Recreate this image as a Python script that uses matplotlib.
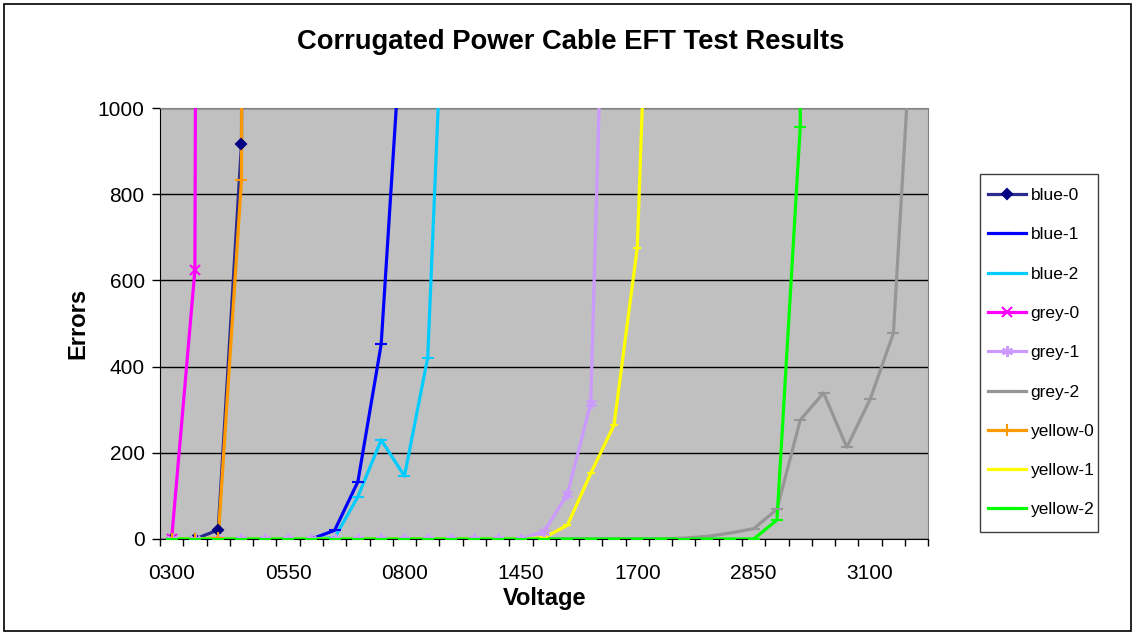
import numpy as np
import matplotlib
matplotlib.use('Agg')
import matplotlib.pyplot as plt
from matplotlib.lines import Line2D
from matplotlib.patches import Rectangle

plt.rcParams['font.family'] = ['Liberation Sans', 'DejaVu Sans']

# --- Data ---
voltages = ['0300', '0350', '0400', '0450', '0500', '0550', '0600', '0650', '0700', '0750',
            '0800', '1000', '1200', '1300', '1400', '1450', '1500', '1550', '1600', '1650',
            '1700', '2000', '2300', '2600', '2800', '2850', '2900', '2950', '3000', '3050',
            '3100', '3150', '3200']
n = len(voltages)

def pad(vals):
    out = np.full(n, np.nan)
    out[:len(vals)] = vals
    return out

blue_0 = pad([0, 0, 21, 916, 20000])
blue_1 = pad([0, 0, 0, 0, 0, 0, 0, 20, 133, 452, 1300])
blue_2 = pad([0, 0, 0, 0, 0, 0, 0, 3, 98, 230, 146, 421, 1720])
grey_0 = pad([0, 624, 20000])
grey_1 = pad([0] * 16 + [17, 104, 315, 2230])
grey_2 = pad([0] * 22 + [2, 6, 14, 24, 69, 276, 339, 213, 324, 477, 1394])
yellow_0 = pad([0, 0, 2, 833, 20000])
yellow_1 = pad([0] * 16 + [3, 32, 152, 264, 676, 2190])
yellow_2 = pad([0] * 26 + [44, 957, 30000])

series = [
    ('blue-0', blue_0, '#2b2b8f', '#000080', 'D', 5.5),
    ('blue-1', blue_1, '#0000ff', '#0000ff', '_', 8),
    ('blue-2', blue_2, '#00ccff', '#00ccff', '_', 8),
    ('grey-0', grey_0, '#ff00ff', '#ff00ff', 'x', 7),
    ('grey-1', grey_1, '#cc99ff', '#cc99ff', (6, 2, 0), 8),
    ('grey-2', grey_2, '#969696', '#969696', '_', 8),
    ('yellow-0', yellow_0, '#ff9900', '#ff9900', '+', 8),
    ('yellow-1', yellow_1, '#ffff00', '#ffff00', '_', 6),
    ('yellow-2', yellow_2, '#00ff00', '#00ff00', '_', 8),
]

W, H = 1136, 633
fig = plt.figure(figsize=(W / 100, H / 100), dpi=100)
ax = fig.add_axes([160 / W, 1 - 539 / H, (928.3 - 160) / W, (539 - 108) / H])
ax.set_facecolor('#c0c0c0')

x = np.arange(n)
handles = []
for i, (name, vals, lc, mc, mk, ms) in enumerate(series):
    ax.plot(x, vals, color=lc, lw=2.3, zorder=3 + i, solid_joinstyle='round')
    ax.plot(x, vals, ls='none', marker=mk, ms=ms, color=mc, mec=mc, mew=1.5, zorder=20 + i)
    handles.append(Line2D([], [], color=lc, lw=2.3, marker=mk, ms=ms, mec=mc, mfc=mc, mew=1.5))

ax.set_xlim(-0.5, n - 0.5)
ax.set_ylim(0, 1000)
ax.set_yticks(np.arange(0, 1001, 200))
ax.yaxis.grid(True, color='black', lw=1)
ax.set_axisbelow(True)

# category boundaries as ticks, labels every 5th category
ax.set_xticks(np.arange(-0.5, n, 1))
ax.set_xticklabels([])
ax.set_xticks(np.arange(0, n, 5), minor=True)
ax.set_xticklabels([voltages[i] for i in range(0, n, 5)], minor=True)
ax.tick_params(axis='x', which='major', length=5, width=1, direction='out')
ax.tick_params(axis='x', which='minor', length=0, pad=18, labelsize=15)
ax.tick_params(axis='y', length=6, width=1, direction='out', pad=5, labelsize=15)

for s in ['top', 'right']:
    ax.spines[s].set_color('#808080')
for s in ['left', 'bottom']:
    ax.spines[s].set_color('black')

ax.set_xlabel('Voltage', fontsize=17, fontweight='bold', labelpad=3)
ax.set_ylabel('Errors', fontsize=17, fontweight='bold', labelpad=6)
fig.text(571 / W, 1 - 42 / H, 'Corrugated Power Cable EFT Test Results',
         ha='center', va='center', fontsize=19.7, fontweight='bold')

# legend entries without frame, box drawn separately
leg = fig.legend(handles, [s[0] for s in series], loc='upper left',
                 bbox_to_anchor=(988 / W, 1 - 188 / H), bbox_transform=fig.transFigure,
                 borderaxespad=0, fontsize=12.5, frameon=False,
                 handlelength=2.2, handletextpad=0.25, labelspacing=1.39, borderpad=0)
fig.patches.append(Rectangle((980 / W, 1 - 531.7 / H), 118.3 / W, 357.4 / H,
                             transform=fig.transFigure, fill=True, fc='white',
                             ec='#404040', lw=1, zorder=0))

fig.patches.append(Rectangle((4 / W, 1 - 631 / H), 1127 / W, 627 / H,
                             transform=fig.transFigure, fill=False, ec='black', lw=1.2))

fig.savefig('out.png', dpi=100)
